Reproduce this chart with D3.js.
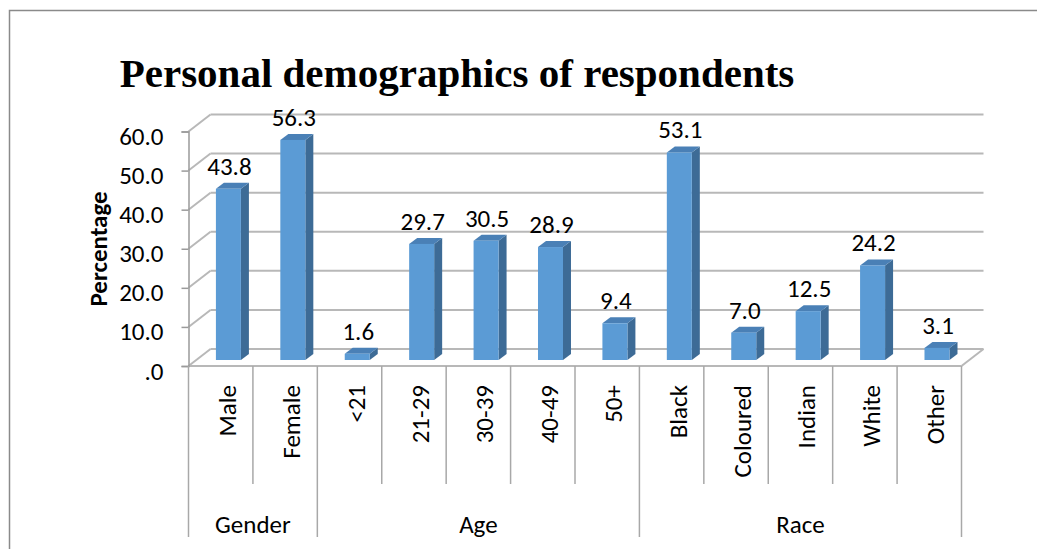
<!DOCTYPE html>
<html>
<head>
<meta charset="utf-8">
<script src="https://cdn.jsdelivr.net/npm/d3@7"></script>
<style>
  body { margin: 0; background: #fff; }
  svg { display: block; }
  text { font-family: Carlito, Calibri, Lato, sans-serif; fill: #000; }
</style>
</head>
<body>
<div id="chart"></div>
<script>
// data
var categories = ["Male", "Female", "<21", "21-29", "30-39", "40-49", "50+", "Black", "Coloured", "Indian", "White", "Other"];
var groupOf = ["Gender", "Gender", "Age", "Age", "Age", "Age", "Age", "Race", "Race", "Race", "Race", "Race"];
var groups = ["Gender", "Age", "Race"];
var values = [43.8, 56.3, 1.6, 29.7, 30.5, 28.9, 9.4, 53.1, 7.0, 12.5, 24.2, 3.1];
var yTicks = [0, 10, 20, 30, 40, 50, 60];

var width = 1037, height = 549;

// 3d wall offset and bar offset
var wdx = 22, wdy = -17;
var bdx = 8, bdy = -6;

var svg = d3.select("#chart").append("svg")
    .attr("width", width)
    .attr("height", height);

// outer chart border (runs off the picture at right and bottom)
svg.append("rect")
    .attr("x", 9.5).attr("y", 10.5)
    .attr("width", 1100).attr("height", 600)
    .attr("fill", "none")
    .attr("stroke", "#8a8a8a")
    .attr("stroke-width", 1.5);

svg.append("text")
    .attr("x", 457)
    .attr("y", 87)
    .attr("text-anchor", "middle")
    .style("font-family", "'Liberation Serif', 'Times New Roman', serif")
    .style("font-weight", "bold")
    .style("font-size", "41px")
    .text("Personal demographics of respondents");

var x = d3.scaleBand()
    .domain(categories)
    .range([188.5, 961.5])
    .padding(0);

var y = d3.scaleLinear()
    .domain([0, 60])
    .range([366, 131.5]);

var bw = 25;

// gridlines: back wall + left side wall diagonals
var grid = svg.append("g")
    .attr("stroke", "#b8b8b8")
    .attr("stroke-width", 2)
    .attr("fill", "none");

grid.selectAll(".back")
    .data(yTicks)
  .enter().append("line")
    .attr("x1", 188.5 + wdx)
    .attr("x2", 961.5 + wdx)
    .attr("y1", function(d) { return y(d) + wdy; })
    .attr("y2", function(d) { return y(d) + wdy; });

grid.selectAll(".side")
    .data(yTicks)
  .enter().append("line")
    .attr("x1", 188.5)
    .attr("x2", 188.5 + wdx)
    .attr("y1", function(d) { return y(d); })
    .attr("y2", function(d) { return y(d) + wdy; });

// floor front edge and right edge
grid.append("line")
    .attr("x1", 188.5).attr("x2", 961.5)
    .attr("y1", y(0)).attr("y2", y(0));
grid.append("line")
    .attr("x1", 961.5).attr("x2", 961.5 + wdx)
    .attr("y1", y(0)).attr("y2", y(0) + wdy);

// y axis
var yAxis = svg.append("g")
    .attr("transform", "translate(188.5,0)")
    .call(d3.axisLeft(y)
        .tickValues(yTicks)
        .tickSize(7)
        .tickPadding(18)
        .tickFormat(function(d) { return d === 0 ? ".0" : d3.format(".1f")(d); }));
yAxis.select(".domain").attr("stroke", "#9a9a9a").attr("stroke-width", 1.5);
yAxis.selectAll(".tick line").attr("stroke", "#9a9a9a").attr("stroke-width", 1.5);
yAxis.selectAll("text")
    .attr("y", 5)
    .style("font-size", "25px")
    .style("font-family", "Carlito, Calibri, Lato, sans-serif")
    .attr("fill", "#000");

svg.append("text")
    .attr("transform", "translate(107,249) rotate(-90)")
    .attr("text-anchor", "middle")
    .style("font-size", "25px")
    .style("font-weight", "bold")
    .text("Percentage");

// bars
var bars = svg.append("g").selectAll("g")
    .data(values)
  .enter().append("g");

function fx(d, i) { return x(categories[i]) + x.bandwidth() / 2 + 7.7 - bw / 2; }

// side face
bars.append("path")
    .attr("fill", "#3d6b96")
    .attr("d", function(d, i) {
      var x0 = fx(d, i) + bw, yt = y(d) + bdy, yb = y(0) + bdy;
      return "M" + x0 + "," + yt + "L" + (x0 + bdx) + "," + (yt + bdy) +
        "L" + (x0 + bdx) + "," + (yb + bdy) + "L" + x0 + "," + yb + "Z";
    });
// top face
bars.append("path")
    .attr("fill", "#4a80b6")
    .attr("d", function(d, i) {
      var x0 = fx(d, i), yt = y(d) + bdy;
      return "M" + x0 + "," + yt + "L" + (x0 + bw) + "," + yt +
        "L" + (x0 + bw + bdx) + "," + (yt + bdy) + "L" + (x0 + bdx) + "," + (yt + bdy) + "Z";
    });
// front face
bars.append("rect")
    .attr("fill", "#5b9bd5")
    .attr("x", fx)
    .attr("y", function(d) { return y(d) + bdy; })
    .attr("width", bw)
    .attr("height", function(d) { return y(0) - y(d); });

// value labels
bars.append("text")
    .attr("x", function(d, i) { return fx(d, i) + bw / 2 + 1; })
    .attr("y", function(d) { return y(d) + 2 * bdy - 8; })
    .attr("text-anchor", "middle")
    .style("font-size", "25px")
    .text(function(d) { return d3.format(".1f")(d); });

// category axis (two levels)
var catAxis = svg.append("g")
    .attr("stroke", "#a8a8a8")
    .attr("stroke-width", 1.5);

var bounds = categories.map(function(c) { return x(c); }).concat([961.5]);
catAxis.selectAll("line")
    .data(bounds)
  .enter().append("line")
    .attr("x1", function(d) { return d; })
    .attr("x2", function(d) { return d; })
    .attr("y1", y(0))
    .attr("y2", function(d, i) {
      var isGroupEdge = i === 0 || i === bounds.length - 1 || groupOf[i] !== groupOf[i - 1];
      return isGroupEdge ? 537 : 484;
    });

svg.append("g").selectAll("text")
    .data(categories)
  .enter().append("text")
    .attr("transform", function(d) {
      return "translate(" + (x(d) + x.bandwidth() / 2 + 15) + ",385) rotate(-90)";
    })
    .attr("text-anchor", "end")
    .style("font-size", "25px")
    .text(function(d) { return d; });

svg.append("g").selectAll("text")
    .data(groups)
  .enter().append("text")
    .attr("x", function(g) {
      var idx = categories.filter(function(c, i) { return groupOf[i] === g; });
      return (x(idx[0]) + x(idx[idx.length - 1]) + x.bandwidth()) / 2;
    })
    .attr("y", 533)
    .attr("text-anchor", "middle")
    .style("font-size", "25px")
    .text(function(g) { return g; });
</script>
</body>
</html>
